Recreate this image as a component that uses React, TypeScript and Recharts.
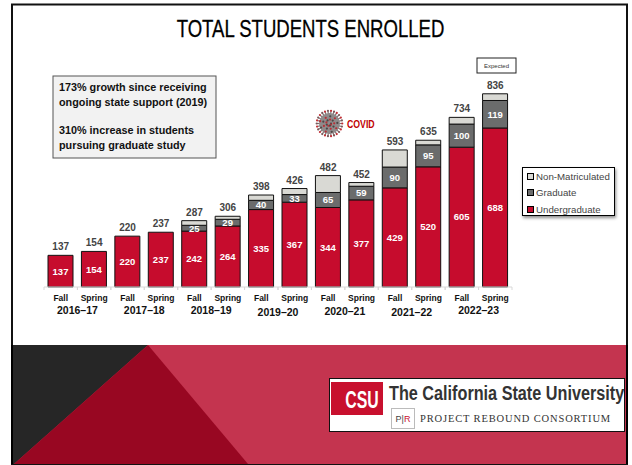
import React from "react";
import { ComposedChart, Bar, Line, XAxis, YAxis, LabelList, Legend } from "recharts";

const terms = ["Fall", "Spring", "Fall", "Spring", "Fall", "Spring", "Fall", "Spring", "Fall", "Spring", "Fall", "Spring", "Fall", "Spring"];
const years = ["2016–17", "2016–17", "2017–18", "2017–18", "2018–19", "2018–19", "2019–20", "2019–20", "2020–21", "2020–21", "2021–22", "2021–22", "2022–23", "2022–23"];
const undergraduate = [137, 154, 220, 237, 242, 264, 335, 367, 344, 377, 429, 520, 605, 688];
const graduate = [null, null, null, null, 25, 29, 40, 33, 65, 59, 90, 95, 100, 119];
const nonMatriculated = [null, null, null, null, 20, 13, 23, 26, 73, 16, 74, 20, 29, 29];
const totals = [137, 154, 220, 237, 287, 306, 398, 426, 482, 452, 593, 635, 734, 836];
const legendOrder = ["Non-Matriculated", "Graduate", "Undergraduate"];

const rows = terms.map((term, i) => ({
  term,
  year: years[i],
  undergraduate: undergraduate[i],
  graduate: graduate[i],
  nonMatriculated: nonMatriculated[i],
  total: totals[i],
}));

const BAND = 468 / 14;
const FONT = "'Liberation Sans', Arial, sans-serif";
const RED = "#c60c2d";
const GREY = "#6b6c6c";
const PALE = "#d9d9d4";

function TermTick({ x, y, payload }: any) {
  return (
    <g>
      <line x1={x - BAND / 2} x2={x - BAND / 2} y1={287} y2={290} stroke="#d9d9d9" />
      <line x1={x + BAND / 2} x2={x + BAND / 2} y1={287} y2={290} stroke="#d9d9d9" />
      <text x={x} y={y + 6} textAnchor="middle" fontSize={8.5} fontWeight={700} fill="#111" fontFamily={FONT}>
        {payload.value}
      </text>
    </g>
  );
}

function YearTick({ x, y, payload, index }: any) {
  if (index % 2 !== 0) return null;
  const dip = [0, 0, 0, 2, 1, 2, 0][index / 2];
  return (
    <text x={x + BAND / 2} y={y + 5 + dip} textAnchor="middle" fontSize={10.5} fontWeight={700} fill="#111" fontFamily={FONT}>
      {payload.value}
    </text>
  );
}

function LegendBox({ payload }: any) {
  const entries = legendOrder
    .map((name) => (payload ?? []).find((e: any) => e.value === name))
    .filter(Boolean);
  return (
    <div
      style={{
        position: "absolute",
        left: 522,
        top: 167,
        width: 93,
        height: 49,
        boxSizing: "border-box",
        background: "#fff",
        border: "1px solid #000",
        boxShadow: "1px 2px 3px rgba(0,0,0,0.45)",
        padding: "0 0 0 4px",
        fontFamily: FONT,
        fontSize: 9.7,
        color: "#444",
      }}
    >
      {entries.map((e: any) => (
        <div key={e.value} style={{ display: "flex", alignItems: "center", height: 16.5, whiteSpace: "nowrap" }}>
          <span style={{ width: 5, height: 5, background: e.color, border: "1px solid #000", marginRight: 2, flex: "none" }} />
          {e.value}
        </div>
      ))}
    </div>
  );
}

// Coronavirus emblem placed beside the COVID note
function VirusIcon({ cx, cy }: { cx: number; cy: number }) {
  const spikes = Array.from({ length: 26 }, (_, i) => (i / 26) * Math.PI * 2);
  const inner = Array.from({ length: 24 }, (_, i) => (i / 24) * Math.PI * 5.3);
  return (
    <g>
      {spikes.map((a, i) => (
        <g key={i}>
          <line x1={cx + 9 * Math.cos(a)} y1={cy + 9 * Math.sin(a)} x2={cx + 12.5 * Math.cos(a)} y2={cy + 12.5 * Math.sin(a)} stroke="#7f7070" strokeWidth={1.2} />
          <circle cx={cx + 12.8 * Math.cos(a)} cy={cy + 12.8 * Math.sin(a)} r={1.1} fill={i % 2 === 0 ? "#c22f35" : "#77585a"} />
        </g>
      ))}
      <circle cx={cx} cy={cy} r={10.5} fill="#8f8a8a" />
      {inner.map((a, i) => {
        const r = 1.5 + (i / 24) * 8.5;
        return <circle key={i} cx={cx + r * Math.cos(a)} cy={cy + r * Math.sin(a)} r={1.1} fill={i % 2 ? "#b92f36" : "#4f4646"} />;
      })}
    </g>
  );
}

function SlideBackdrop() {
  return (
    <svg width={632} height={465} style={{ position: "absolute", left: 0, top: 0 }}>
      <rect x={0} y={0} width={632} height={465} fill="#fff" />
      <rect x={12} y={4.5} width={615} height={459.5} fill="#fff" stroke="#111" strokeWidth={2} />
      <rect x={12} y={345} width={615} height={119} fill="#c4344f" />
      <polygon points="12,345 148,345 14,464 12,464" fill="#262626" />
      <polygon points="148,345 248,464 14,464" fill="#980722" />
      <line x1={12} x2={12} y1={345} y2={464} stroke="#000" strokeWidth={2} />
      <line x1={627} x2={627} y1={345} y2={464} stroke="#000" strokeWidth={2} />
      <text transform="translate(310.5 37) scale(0.79 1)" textAnchor="middle" fontSize={23.5} fill="#000" stroke="#000" strokeWidth={0.3} fontFamily={FONT}>
        TOTAL STUDENTS ENROLLED
      </text>
      <rect x={53} y={76} width={163} height={82} fill="#f2f2f2" stroke="#555" />
      <g fontFamily={FONT} fontSize={10.8} fontWeight={700} fill="#111">
        <text x={59} y={91}>173% growth since receiving</text>
        <text x={59} y={106}>ongoing state support (2019)</text>
        <text x={59} y={134}>310% increase in students</text>
        <text x={59} y={149}>pursuing graduate study</text>
      </g>
      <rect x={477} y={58} width={39} height={15} fill="#fff" stroke="#222" />
      <text x={496.5} y={68} textAnchor="middle" fontSize={6} fill="#333" fontFamily={FONT}>Expected</text>
      <VirusIcon cx={329.5} cy={123.5} />
      <text transform="translate(347 128) scale(0.875 1)" fontSize={10} fontWeight={700} fill="#c00000" fontFamily={FONT}>COVID</text>
      <rect x={329.5} y={378.5} width={295} height={53} fill="#fff" stroke="#111" />
      <rect x={331} y={382} width={52} height={33} fill="#c8102e" />
      <text transform="translate(362 408) scale(0.66 1)" textAnchor="middle" fontSize={24} fontWeight={700} fill="#fff" fontFamily={FONT}>CSU</text>
      <text transform="translate(389 400) scale(0.773 1)" fontSize={21} fontWeight={700} fill="#333" fontFamily={FONT}>The California State University</text>
      <rect x={391.5} y={408.5} width={23} height={20} fill="#fff" stroke="#bbb" />
      <text x={403} y={422} textAnchor="middle" fontSize={9} fill="#444" fontFamily={FONT}>P|<tspan fill="#c8102e">R</tspan></text>
      <text x={420} y={421.5} fontSize={10.5} letterSpacing={0.85} fill="#333" fontFamily="'Liberation Serif', serif">PROJECT REBOUND CONSORTIUM</text>
    </svg>
  );
}

export default function App() {
  return (
    <div style={{ position: "absolute", left: 0, top: 0, width: 632, height: 465, overflow: "hidden" }}>
      <SlideBackdrop />
      <div style={{ position: "absolute", left: 0, top: 0 }}>
        <ComposedChart width={632} height={465} data={rows} margin={{ left: 44, right: 120, top: 79, bottom: 148 }}>
          <XAxis dataKey="term" xAxisId={0} height={14} interval={0} tickLine={false} axisLine={{ stroke: "#d9d9d9" }} tick={<TermTick />} />
          <XAxis dataKey="year" xAxisId="years" height={16} interval={0} tickLine={false} axisLine={false} tick={<YearTick />} />
          <YAxis hide domain={[0, 900]} />
          <Bar dataKey="undergraduate" name="Undergraduate" stackId="enrolled" fill={RED} stroke="#111" barSize={25} isAnimationActive={false}>
            <LabelList dataKey="undergraduate" position="center" fill="#fff" fontSize={9.5} fontWeight={700} fontFamily={FONT} />
          </Bar>
          <Bar dataKey="graduate" name="Graduate" stackId="enrolled" fill={GREY} stroke="#111" barSize={25} isAnimationActive={false}>
            <LabelList dataKey="graduate" position="center" fill="#fff" fontSize={9.5} fontWeight={700} fontFamily={FONT} />
          </Bar>
          <Bar dataKey="nonMatriculated" name="Non-Matriculated" stackId="enrolled" fill={PALE} stroke="#111" barSize={25} isAnimationActive={false} />
          <Line dataKey="total" stroke="none" dot={false} legendType="none" isAnimationActive={false}>
            <LabelList dataKey="total" position="top" offset={5} fill="#444" fontSize={10} fontWeight={700} fontFamily={FONT} />
          </Line>
          <Legend layout="vertical" align="center" verticalAlign="middle" content={<LegendBox />} wrapperStyle={{ position: "absolute", left: 0, top: 0, width: 0, height: 0 }} />
        </ComposedChart>
      </div>
    </div>
  );
}
